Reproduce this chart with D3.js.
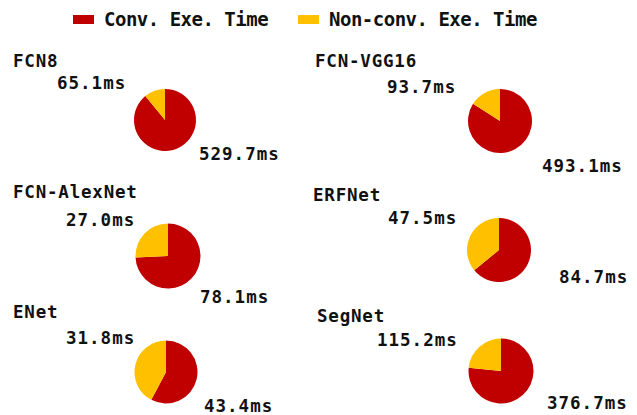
<!DOCTYPE html>
<html>
<head>
<meta charset="utf-8">
<script src="https://cdn.jsdelivr.net/npm/d3@7"></script>
<style>
  body { margin: 0; background: #fff; }
  text { font-family: "DejaVu Sans Mono", monospace; font-weight: bold; fill: #111; }
</style>
</head>
<body>
<div class="chart"></div>
<script>
// data
const models = ['FCN8', 'FCN-VGG16', 'FCN-AlexNet', 'ERFNet', 'ENet', 'SegNet'];
const convTime = [529.7, 493.1, 78.1, 84.7, 43.4, 376.7];
const nonConvTime = [65.1, 93.7, 27.0, 47.5, 31.8, 115.2];
const seriesNames = ['Conv. Exe. Time', 'Non-conv. Exe. Time'];
const colors = ['#C00000', '#FFC000'];

// layout per panel: pie center, title pos, top label pos, bottom label pos
const layout = [
  {cx: 165, cy: 120, r: 31, tx: 13, ty: 67, ax: 57, ay: 89, bx: 199, by: 160},
  {cx: 500, cy: 121, r: 32, tx: 315, ty: 67, ax: 387, ay: 93, bx: 542, by: 172},
  {cx: 168, cy: 256, r: 32.5, tx: 13, ty: 198, ax: 66, ay: 226, bx: 200, by: 303},
  {cx: 499, cy: 250, r: 32, tx: 313, ty: 201, ax: 388, ay: 224, bx: 559, by: 283},
  {cx: 166, cy: 372, r: 31.5, tx: 13, ty: 318, ax: 66, ay: 344, bx: 204, by: 412},
  {cx: 501, cy: 371, r: 32.5, tx: 317, ty: 322, ax: 377, ay: 346, bx: 547, by: 409}
];

const svg = d3.select('.chart').append('svg')
  .attr('width', 637)
  .attr('height', 415);

// legend
const legend = svg.append('g').selectAll('g')
  .data(seriesNames)
  .enter()
  .append('g')
  .attr('transform', (d, i) => 'translate(' + [73, 298][i] + ',0)');

legend.append('rect')
  .attr('y', 15)
  .attr('width', 21)
  .attr('height', 9)
  .style('fill', (d, i) => colors[i]);

legend.append('text')
  .attr('x', 31)
  .attr('y', 26)
  .style('font-size', '19px')
  .style('letter-spacing', '-0.5px')
  .text(d => d);

const pie = d3.pie().sort(null).value(d => d);

models.forEach(function (name, i) {
  const L = layout[i];
  const g = svg.append('g');
  const arc = d3.arc().innerRadius(0).outerRadius(L.r);

  g.selectAll('path')
    .data(pie([convTime[i], nonConvTime[i]]))
    .enter()
    .append('path')
    .attr('transform', 'translate(' + L.cx + ',' + L.cy + ')')
    .attr('d', arc)
    .style('fill', (d, j) => colors[j]);

  g.append('text')
    .attr('x', L.tx).attr('y', L.ty)
    .style('font-size', '17.5px')
    .style('letter-spacing', '0.8px')
    .text(name);

  g.append('text')
    .attr('x', L.ax).attr('y', L.ay)
    .style('font-size', '17.5px')
    .style('letter-spacing', '1px')
    .text(nonConvTime[i].toFixed(1) + 'ms');

  g.append('text')
    .attr('x', L.bx).attr('y', L.by)
    .style('font-size', '17.5px')
    .style('letter-spacing', '1px')
    .text(convTime[i].toFixed(1) + 'ms');
});
</script>
</body>
</html>
